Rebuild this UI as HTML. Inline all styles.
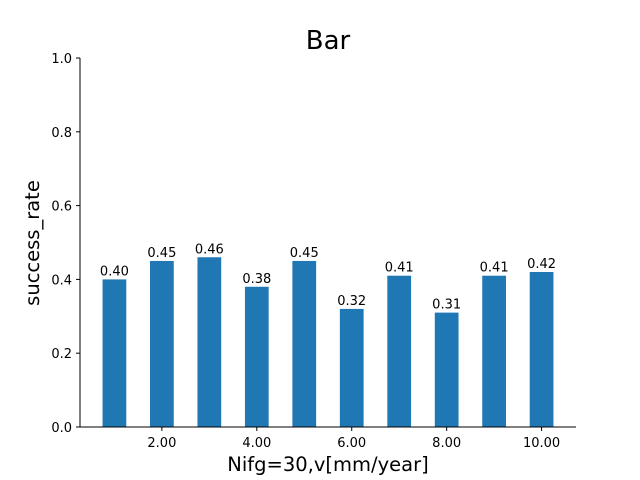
<!DOCTYPE html>
<html><head><meta charset="utf-8"><style>
body{margin:0;background:#fff}
svg{display:block;font-family:"DejaVu Sans","Liberation Sans",sans-serif}
</style></head><body>
<svg id="chart" width="640" height="480">
<text x="328" y="49" text-anchor="middle" font-size="26">Bar</text>
<text x="328" y="471" text-anchor="middle" font-size="19.5">Nifg=30,v[mm/year]</text>
<text transform="translate(39,243) rotate(-90)" text-anchor="middle" font-size="19.5">success_rate</text>
<g id="bars"></g><g id="axes"></g>
</svg>
<script>
const categories=[1,2,3,4,5,6,7,8,9,10];
const values=[0.40,0.45,0.46,0.38,0.45,0.32,0.41,0.31,0.41,0.42];
const xTicks=[2,4,6,8,10];
const yTicks=[0,0.2,0.4,0.6,0.8,1.0];
const L=80,R=576,T=58,B=427,xmin=0.275,xmax=10.725;
const sx=v=>L+(v-xmin)/(xmax-xmin)*(R-L);
const sy=v=>B-v*(B-T);
const NS="http://www.w3.org/2000/svg";
function mk(t,a,p){const e=document.createElementNS(NS,t);for(const k in a)e.setAttribute(k,a[k]);p.appendChild(e);return e;}
const bars=document.getElementById('bars'),axes=document.getElementById('axes');
categories.forEach((c,i)=>{
 const x0=sx(c-0.25),x1=sx(c+0.25);
 const r=mk('rect',{x:x0,y:sy(values[i]),width:x1-x0,height:B-sy(values[i]),fill:'#1f77b4'},bars);
 
 
 const t=mk('text',{x:sx(c),y:sy(values[i])-4,'text-anchor':'middle','font-size':13},bars);
 t.textContent=values[i].toFixed(2);
 
 
});
mk('line',{x1:L,y1:T,x2:L,y2:B,stroke:'#000','stroke-width':1},axes);
mk('line',{x1:L,y1:B,x2:R,y2:B,stroke:'#000','stroke-width':1},axes);
xTicks.forEach(v=>{
 mk('line',{x1:sx(v),y1:B,x2:sx(v),y2:B+4,stroke:'#000'},axes);
 const t=mk('text',{x:sx(v),y:B+20,'text-anchor':'middle','font-size':13},axes);
 t.textContent=v.toFixed(2);
 
 
});
yTicks.forEach(v=>{
 mk('line',{x1:L-4,y1:sy(v),x2:L,y2:sy(v),stroke:'#000'},axes);
 const t=mk('text',{x:L-8,y:sy(v)+5,'text-anchor':'end','font-size':13},axes);
 t.textContent=v.toFixed(1);
 
 
});
</script>
</body></html>
